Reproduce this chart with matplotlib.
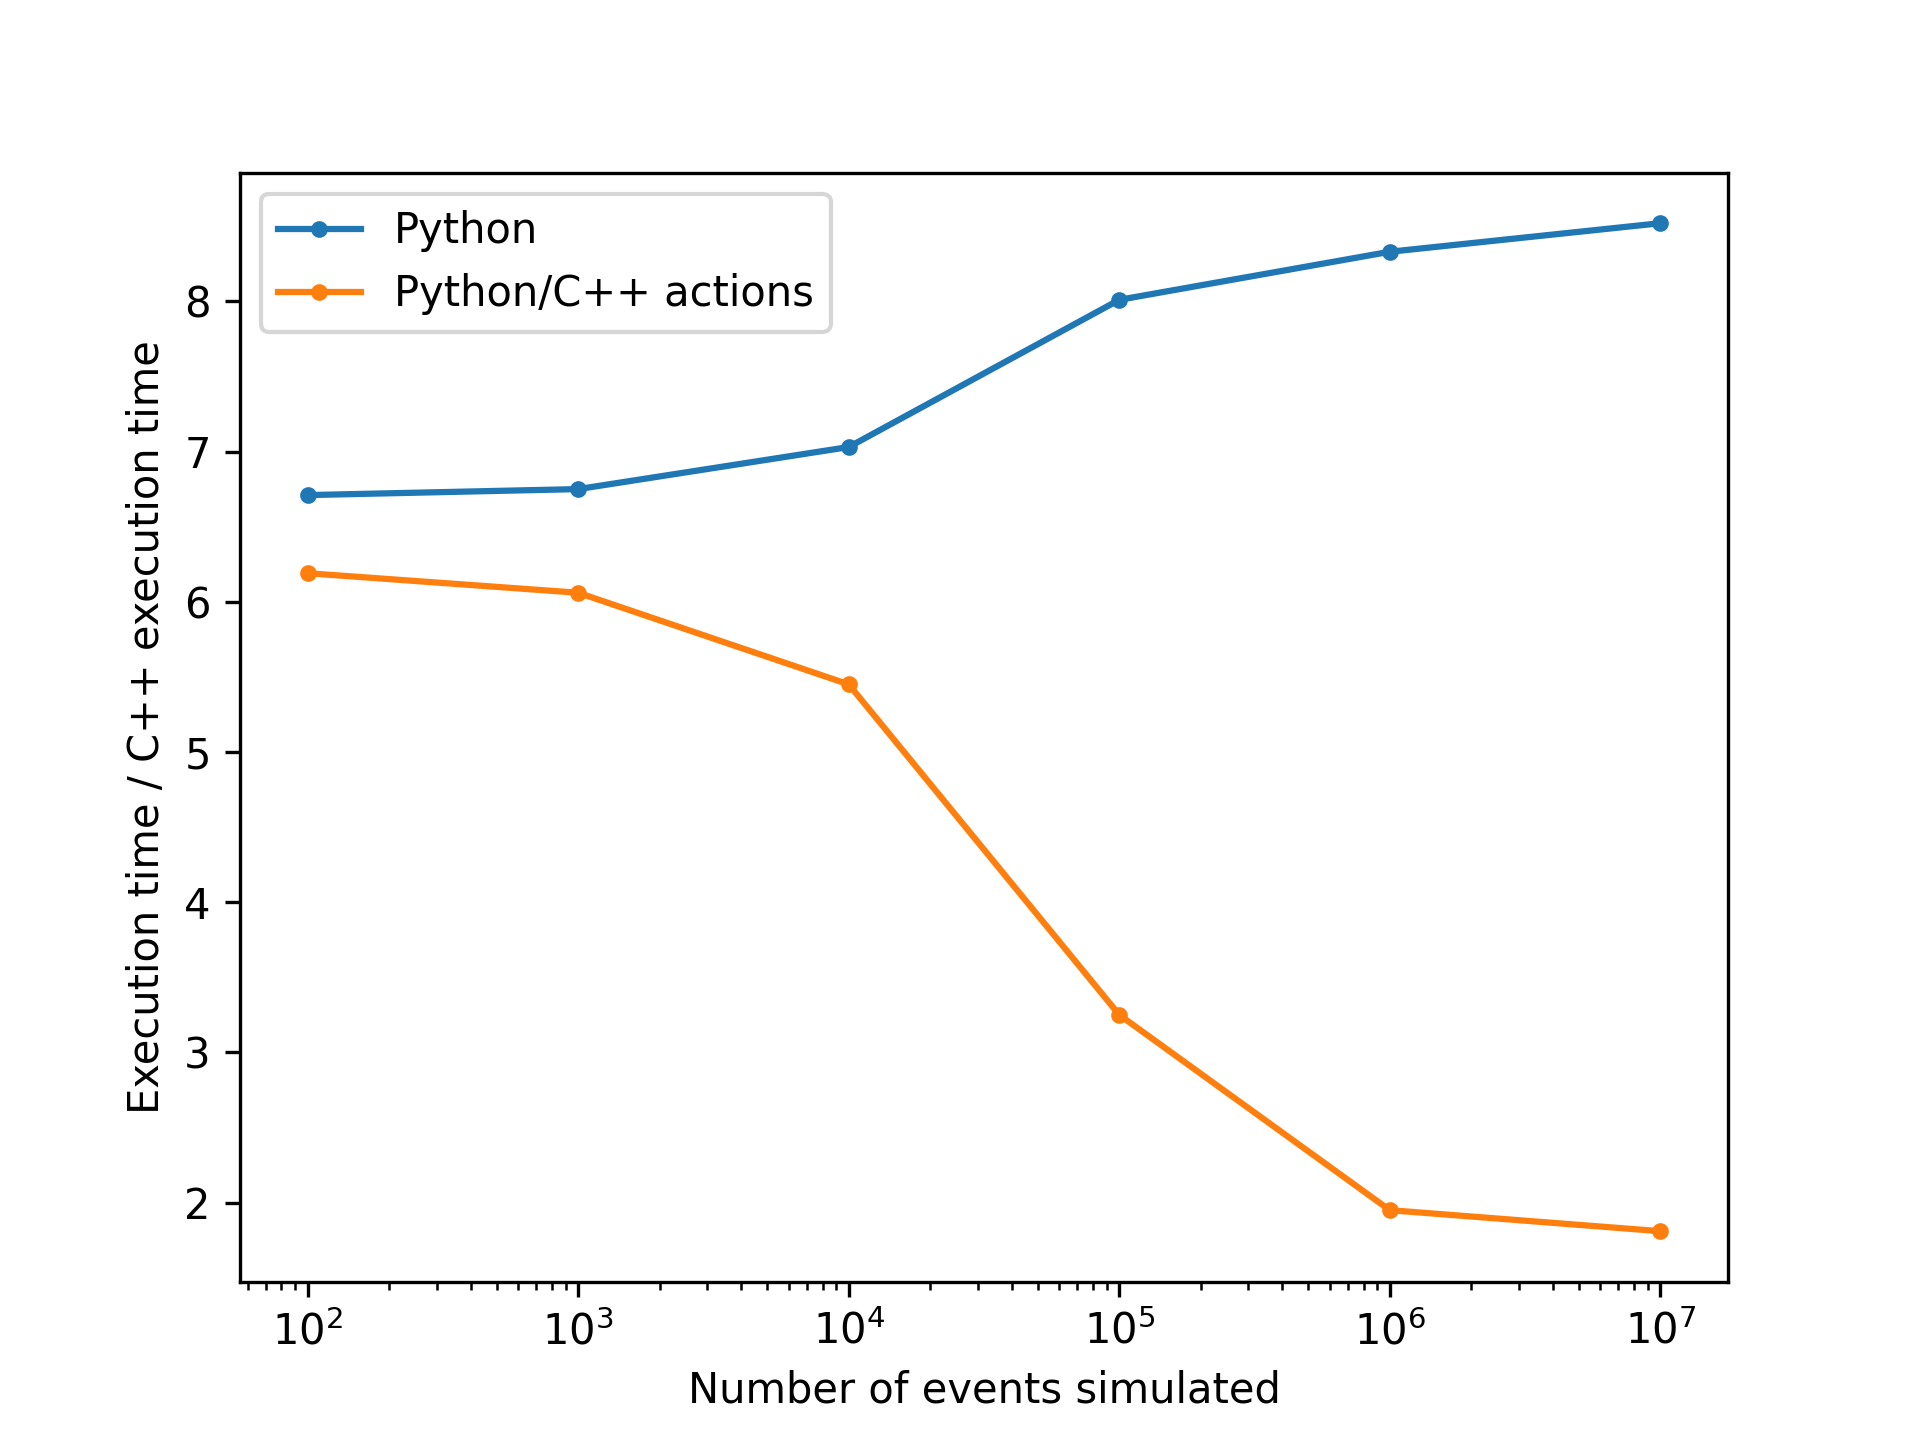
import matplotlib
matplotlib.use("Agg")
import matplotlib.pyplot as plt

events = [1e2, 1e3, 1e4, 1e5, 1e6, 1e7]
python_ratio = [6.71, 6.75, 7.03, 8.01, 8.33, 8.52]
actions_ratio = [6.19, 6.06, 5.45, 3.25, 1.95, 1.81]

fig, ax = plt.subplots(figsize=(6.4, 4.8), dpi=300)
ax.plot(events, python_ratio, marker='.', label='Python')
ax.plot(events, actions_ratio, marker='.', label='Python/C++ actions')
ax.set_xscale('log')
ax.set_xlabel('Number of events simulated')
ax.set_ylabel('Execution time / C++ execution time')
ax.legend()
fig.savefig('out.png', dpi=300)
